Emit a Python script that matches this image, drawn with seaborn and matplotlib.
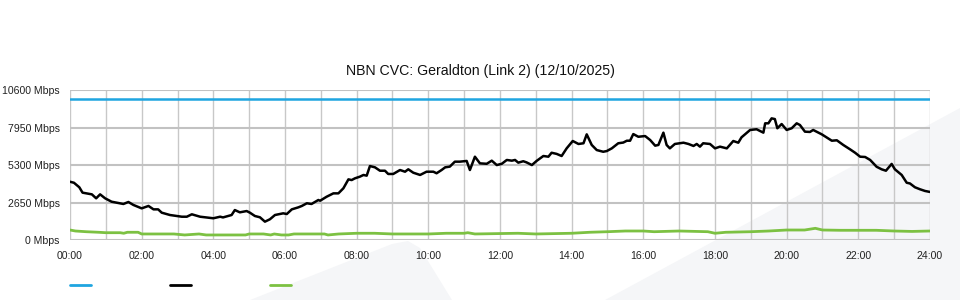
import matplotlib
matplotlib.use("Agg")
import matplotlib.pyplot as plt
from matplotlib.lines import Line2D
from matplotlib.patches import Polygon
import seaborn as sns
import pandas as pd

# ---- data (hours, Mbps) ----
used_hours = [0.00, 0.11, 0.26, 0.35, 0.61, 0.73, 0.84, 0.98, 1.16, 1.49, 1.63, 1.77, 2.00, 2.19, 2.33, 2.46,
              2.56, 2.79, 2.98, 3.12, 3.26, 3.40, 3.63, 4.00, 4.19, 4.27, 4.51, 4.60, 4.74, 4.93, 5.02, 5.16,
              5.30, 5.44, 5.58, 5.72, 5.95, 6.05, 6.19, 6.37, 6.47, 6.61, 6.74, 6.93, 6.98, 7.16, 7.35, 7.49,
              7.63, 7.77, 7.86, 7.95, 8.09, 8.19, 8.28, 8.37, 8.51, 8.65, 8.79, 8.88, 9.02, 9.21, 9.35, 9.44,
              9.58, 9.77, 9.95, 10.14, 10.23, 10.37, 10.47, 10.60, 10.74, 10.88, 11.07, 11.16, 11.30, 11.44,
              11.63, 11.77, 11.91, 12.05, 12.19, 12.33, 12.42, 12.51, 12.65, 12.74, 12.89, 13.02, 13.21, 13.35,
              13.44, 13.58, 13.72, 13.86, 14.03, 14.19, 14.33, 14.42, 14.56, 14.70, 14.88, 14.98, 15.12, 15.30,
              15.44, 15.54, 15.63, 15.72, 15.86, 16.05, 16.19, 16.33, 16.42, 16.56, 16.65, 16.74, 16.88, 17.12,
              17.26, 17.40, 17.49, 17.58, 17.67, 17.86, 18.00, 18.14, 18.33, 18.51, 18.65, 18.74, 18.98, 19.16,
              19.35, 19.40, 19.49, 19.58, 19.67, 19.74, 19.86, 20.00, 20.14, 20.28, 20.37, 20.51, 20.65, 20.74,
              20.98, 21.26, 21.40, 21.58, 21.77, 21.91, 22.05, 22.19, 22.33, 22.51, 22.65, 22.77, 22.93, 23.02,
              23.21, 23.35, 23.44, 23.58, 23.72, 23.86, 24.00]
used_mbps = [4130, 4060, 3740, 3360, 3240, 2960, 3240, 2960, 2720, 2560, 2700, 2490, 2250, 2420, 2180, 2180,
             1945, 1780, 1710, 1660, 1660, 1830, 1660, 1550, 1660, 1610, 1780, 2130, 1970, 2060, 1945, 1710,
             1620, 1310, 1480, 1780, 1900, 1850, 2180, 2320, 2420, 2610, 2560, 2840, 2790, 3070, 3310, 3310,
             3670, 4300, 4250, 4370, 4490, 4610, 4560, 5240, 5150, 4910, 4910, 4680, 4680, 4960, 4840, 5010,
             4770, 4610, 4840, 4840, 4730, 4960, 5150, 5200, 5550, 5550, 5600, 4960, 5900, 5430,
             5400, 5620, 5310, 5400, 5670, 5620, 5670, 5480, 5580, 5500, 5310, 5600, 5950, 5900,
             6180, 6100, 5950, 6490, 7010, 6800, 6850, 7480, 6730, 6370, 6250, 6300, 6490, 6850,
             6900, 7030, 7030, 7500, 7310, 7360, 7080, 6680, 6730, 7600, 6730, 6490, 6800, 6890,
             6800, 6660, 6800, 6610, 6850, 6800, 6490, 6610, 6490, 7010, 6890, 7270, 7790, 7840,
             7600, 8260, 8260, 8610, 8560, 7910, 8210, 7790, 7910, 8260, 8140, 7670, 7650, 7790,
             7480, 7030, 7060, 6730, 6420, 6180, 5900, 5880, 5670, 5190, 5010, 4910, 5390, 5010,
             4610, 4060, 4010, 3740, 3600, 3480, 3410]

other_hours = [0.00, 0.15, 0.45, 0.80, 1.00, 1.40, 1.50, 1.60, 1.90, 2.00, 2.90, 3.20, 3.60, 3.80, 4.90, 5.00,
               5.40, 5.60, 5.70, 5.90, 6.10, 6.25, 7.10, 7.20, 7.50, 8.00, 8.50, 9.00, 9.50, 10.00, 10.50,
               11.00, 11.10, 11.30, 12.50, 13.00, 14.00, 14.50, 15.00, 15.50, 16.00, 16.30, 17.00, 17.80,
               18.00, 18.30, 19.00, 19.50, 20.00, 20.50, 20.80, 21.00, 21.50, 22.00, 22.50, 23.00, 23.50, 24.00]
other_mbps = [720, 650, 600, 560, 530, 530, 490, 560, 560, 440, 440, 370, 440, 370, 370, 440,
              440, 370, 440, 370, 370, 440, 440, 370, 440, 490, 490, 440, 440, 440, 490,
              490, 530, 440, 490, 440, 490, 560, 600, 650, 650, 600, 650, 600,
              490, 560, 600, 650, 720, 720, 840, 720, 700, 700, 700, 650, 620, 650]

capacity_hours = [0, 24]
capacity_mbps = [10000, 10000]

title = "NBN CVC: Geraldton (Link 2) (12/10/2025)"
y_ticks = [0, 2650, 5300, 7950, 10600]
y_tick_labels = ["0 Mbps", "2650 Mbps", "5300 Mbps", "7950 Mbps", "10600 Mbps"]
x_ticks = list(range(0, 25, 2))
x_tick_labels = [f"{h:02d}:00" for h in x_ticks]

# ---- style ----
sns.set_theme(style="white")
plt.rcParams['font.family'] = ['Liberation Sans', 'DejaVu Sans']

BLUE = "#1fa5e0"
BLACK = "#000000"
GREEN = "#7cc142"
WM = "#f5f6f8"

fig = plt.figure(figsize=(9.6, 3.0), dpi=100)
fig.patch.set_facecolor("white")

# faint watermark shapes in the background (figure pixel coords -> fraction)
def fp(pts):
    return [(x / 960, 1 - y / 300) for x, y in pts]

fig.patches.append(Polygon(fp([(250, 300), (392, 244), (408, 241), (420, 248), (452, 300)]),
                           closed=True, transform=fig.transFigure, facecolor=WM,
                           edgecolor="none", zorder=0))
fig.patches.append(Polygon(fp([(605, 300), (960, 108), (960, 300)]),
                           closed=True, transform=fig.transFigure, facecolor=WM,
                           edgecolor="none", zorder=0))

ax = fig.add_axes([70 / 960, 1 - 240.2 / 300, 860 / 960, 150 / 300])
ax.set_facecolor("none")
ax.set_zorder(2)

df_used = pd.DataFrame({"hour": used_hours, "mbps": used_mbps})
df_other = pd.DataFrame({"hour": other_hours, "mbps": other_mbps})
df_cap = pd.DataFrame({"hour": capacity_hours, "mbps": capacity_mbps})

sns.lineplot(data=df_cap, x="hour", y="mbps", ax=ax, color=BLUE, lw=1.8, zorder=3)
sns.lineplot(data=df_other, x="hour", y="mbps", ax=ax, color=GREEN, lw=2.0, zorder=3)
sns.lineplot(data=df_used, x="hour", y="mbps", ax=ax, color=BLACK, lw=1.8, zorder=4)

ax.set_xlim(0, 24)
ax.set_ylim(0, 10600)
ax.set_xlabel("")
ax.set_ylabel("")

ax.set_xticks(x_ticks)
ax.set_xticklabels(x_tick_labels, fontsize=7.6, color="#222222")
ax.set_xticks(range(0, 25), minor=True)
ax.set_yticks(y_ticks)
ax.set_yticklabels(y_tick_labels, fontsize=7.6, color="#222222")
ax.tick_params(axis="both", which="both", length=0)
ax.tick_params(axis="x", pad=8)
ax.tick_params(axis="y", pad=7.5)

ax.grid(False)
ax.grid(axis="x", which="both", color="#c8c8c8", lw=1.0, zorder=1)
ax.grid(axis="y", which="major", color="#c2c2c2", lw=1.5, zorder=1)
for s in ax.spines.values():
    s.set_visible(False)

fig.text(480 / 960, 1 - 71 / 300, title, ha="center", va="center", fontsize=10.2, color="#111111")

# legend swatches (no text)
for x0, c in [(70, BLUE), (170, BLACK), (270, GREEN)]:
    fig.add_artist(Line2D([x0 / 960, (x0 + 21) / 960], [1 - 285 / 300, 1 - 285 / 300],
                          transform=fig.transFigure, color=c, lw=2.0, zorder=5))

fig.savefig("out.png", dpi=100, facecolor="white")
